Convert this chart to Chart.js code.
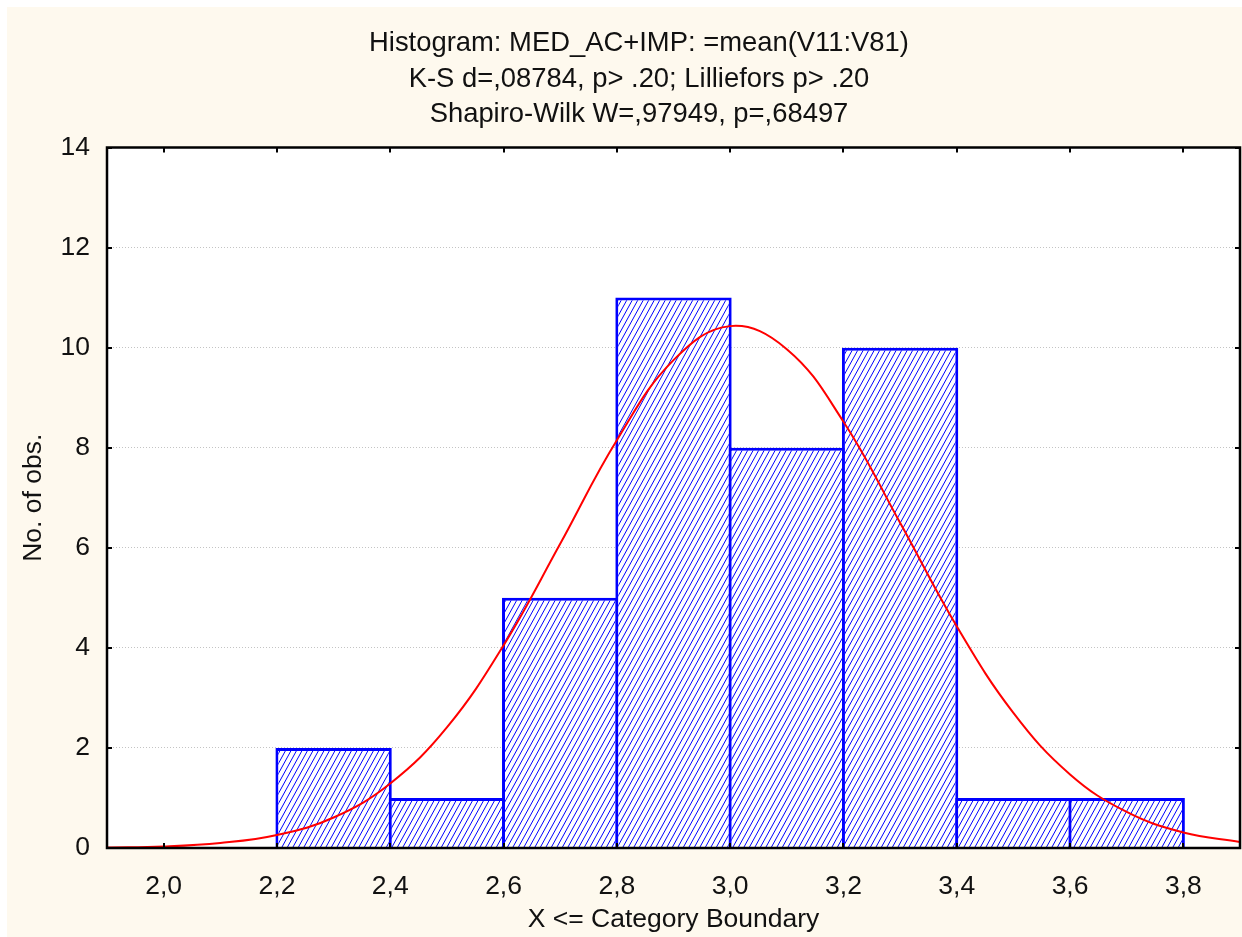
<!DOCTYPE html>
<html lang="en">
<head>
    <meta charset="UTF-8">
    <title>Histogram: MED_AC+IMP</title>
    <script src="https://cdn.jsdelivr.net/npm/chart.js"></script>
    <style>
        body { margin: 0; background: #ffffff; }
        .chart-container { position: absolute; left: 7px; top: 7px; width: 1235px; height: 930px; background: #fef9ee; }
    </style>
</head>
<body>
    <div class="chart-container">
        <canvas id="histChart"></canvas>
    </div>

    <script>
        // Histogram bins (centre of each 0.2 wide bin) and counts
        const binCenters = [2.3, 2.5, 2.7, 2.9, 3.1, 3.3, 3.5, 3.7];
        const binCounts = [2, 1, 5, 11, 8, 10, 1, 1];

        // Fitted normal curve
        const curveX = [1.9, 2.0, 2.1, 2.2, 2.3, 2.4, 2.5, 2.6, 2.7, 2.8, 2.9, 3.0, 3.1, 3.2, 3.3, 3.4, 3.5, 3.6, 3.7, 3.8, 3.9];
        const curveY = [0.01, 0.03, 0.10, 0.26, 0.61, 1.29, 2.41, 4.05, 6.08, 8.15, 9.75, 10.43, 9.97, 8.52, 6.50, 4.43, 2.70, 1.47, 0.72, 0.31, 0.12];

        // Axis ticks
        const xTicks = [2.0, 2.2, 2.4, 2.6, 2.8, 3.0, 3.2, 3.4, 3.6, 3.8];
        const yTicks = [0, 2, 4, 6, 8, 10, 12, 14];

        const titleLines = [
            'Histogram: MED_AC+IMP: =mean(V11:V81)',
            'K-S d=,08784, p> .20; Lilliefors p> .20',
            'Shapiro-Wilk W=,97949, p=,68497'
        ];

        const fontFamily = 'Arial, "Liberation Sans", sans-serif';
        const titleSize = 27.4;
        const titleLineH = 35.5;

        // diagonal hatch for the bars
        function makeHatch() {
            const pc = document.createElement('canvas');
            pc.width = 11; pc.height = 20;
            const c = pc.getContext('2d');
            c.fillStyle = '#ffffff';
            c.fillRect(0, 0, 11, 20);
            c.strokeStyle = '#0000ff';
            c.lineWidth = 1;
            for (let k = -2; k <= 2; k++) {
                c.beginPath();
                c.moveTo(k * 5.5, 20);
                c.lineTo(k * 5.5 + 11, 0);
                c.stroke();
            }
            return c.createPattern(pc, 'repeat');
        }

        // white plot area, black frame, inward tick marks and the title text
        const framePlugin = {
            id: 'frame',
            beforeDraw(chart) {
                const { ctx, chartArea: a } = chart;
                ctx.save();
                ctx.fillStyle = '#ffffff';
                ctx.fillRect(a.left, a.top, a.right - a.left, a.bottom - a.top);
                ctx.restore();
            },
            afterDraw(chart) {
                const { ctx, chartArea: a, scales } = chart;
                ctx.save();
                ctx.strokeStyle = '#000000';
                ctx.lineWidth = 2;
                const len = 5;
                ctx.beginPath();
                xTicks.forEach(v => {
                    const px = Math.round(scales.x.getPixelForValue(v));
                    ctx.moveTo(px, a.bottom); ctx.lineTo(px, a.bottom - len);
                    ctx.moveTo(px, a.top); ctx.lineTo(px, a.top + len);
                });
                yTicks.forEach(v => {
                    const py = Math.round(scales.y.getPixelForValue(v));
                    ctx.moveTo(a.left, py); ctx.lineTo(a.left + len, py);
                    ctx.moveTo(a.right, py); ctx.lineTo(a.right - len, py);
                });
                ctx.stroke();
                ctx.lineWidth = 2.5;
                ctx.strokeRect(a.left, a.top, a.right - a.left, a.bottom - a.top);

                // title, centred a little right of the canvas middle as in the original
                const tb = chart.titleBlock;
                ctx.fillStyle = '#111111';
                ctx.font = titleSize + 'px ' + fontFamily;
                ctx.textAlign = 'center';
                ctx.textBaseline = 'middle';
                titleLines.forEach((t, i) => {
                    ctx.fillText(t, 632, tb.top + 19 + titleLineH * (i + 0.5));
                });
                ctx.restore();
            }
        };

        const canvas = document.getElementById('histChart');
        const hatch = makeHatch();

        new Chart(canvas, {
            data: {
                datasets: [
                    {
                        type: 'line',
                        order: 1,
                        data: curveX.map((x, i) => ({ x: x, y: curveY[i] })),
                        borderColor: '#ff0000',
                        borderWidth: 2,
                        pointRadius: 0,
                        tension: 0.4,
                        fill: false
                    },
                    {
                        type: 'bar',
                        order: 2,
                        data: binCenters.map((x, i) => ({ x: x, y: binCounts[i] })),
                        backgroundColor: hatch,
                        borderColor: '#0000ff',
                        borderWidth: 3,
                        borderSkipped: 'bottom',
                        barPercentage: 1.027,
                        categoryPercentage: 1.0
                    }
                ]
            },
            options: {
                responsive: true,
                maintainAspectRatio: false,
                animation: false,
                layout: { padding: { left: 0, right: 2, top: 0, bottom: 0 } },
                plugins: {
                    legend: { display: false },
                    tooltip: { enabled: false },
                    title: {
                        // reserves the space; the text itself is drawn by framePlugin
                        display: true,
                        text: titleLines,
                        color: 'rgba(0,0,0,0)',
                        font: { family: fontFamily, size: titleSize, weight: 'normal', lineHeight: titleLineH / titleSize },
                        padding: { top: 19, bottom: 15 }
                    }
                },
                scales: {
                    x: {
                        type: 'linear',
                        offset: false,
                        min: 1.9,
                        max: 3.9,
                        afterBuildTicks: s => { s.ticks = xTicks.map(v => ({ value: v })); },
                        afterFit: s => { s.height = 89; },
                        grid: { display: false, drawTicks: false, offset: false },
                        border: { display: false },
                        ticks: {
                            color: '#111111',
                            padding: 23,
                            maxRotation: 0,
                            autoSkip: false,
                            font: { family: fontFamily, size: 26.5 },
                            callback: v => v.toFixed(1).replace('.', ',')
                        },
                        title: {
                            display: true,
                            text: 'X <= Category Boundary',
                            color: '#111111',
                            font: { family: fontFamily, size: 26.5 },
                            padding: { top: 1, bottom: 1 }
                        }
                    },
                    y: {
                        min: 0,
                        max: 14,
                        afterBuildTicks: s => { s.ticks = yTicks.map(v => ({ value: v })); },
                        afterFit: s => { s.width = 100; },
                        grid: { color: '#c4c4c4', lineWidth: 1, drawTicks: false },
                        border: { display: false, dash: [1, 2] },
                        ticks: {
                            color: '#111111',
                            padding: 17,
                            font: { family: fontFamily, size: 26.5 }
                        },
                        title: {
                            display: true,
                            text: 'No. of obs.',
                            color: '#111111',
                            font: { family: fontFamily, size: 26.5 },
                            padding: { top: 11, bottom: 0 }
                        }
                    }
                }
            },
            plugins: [framePlugin]
        });
    </script>
</body>
</html>
